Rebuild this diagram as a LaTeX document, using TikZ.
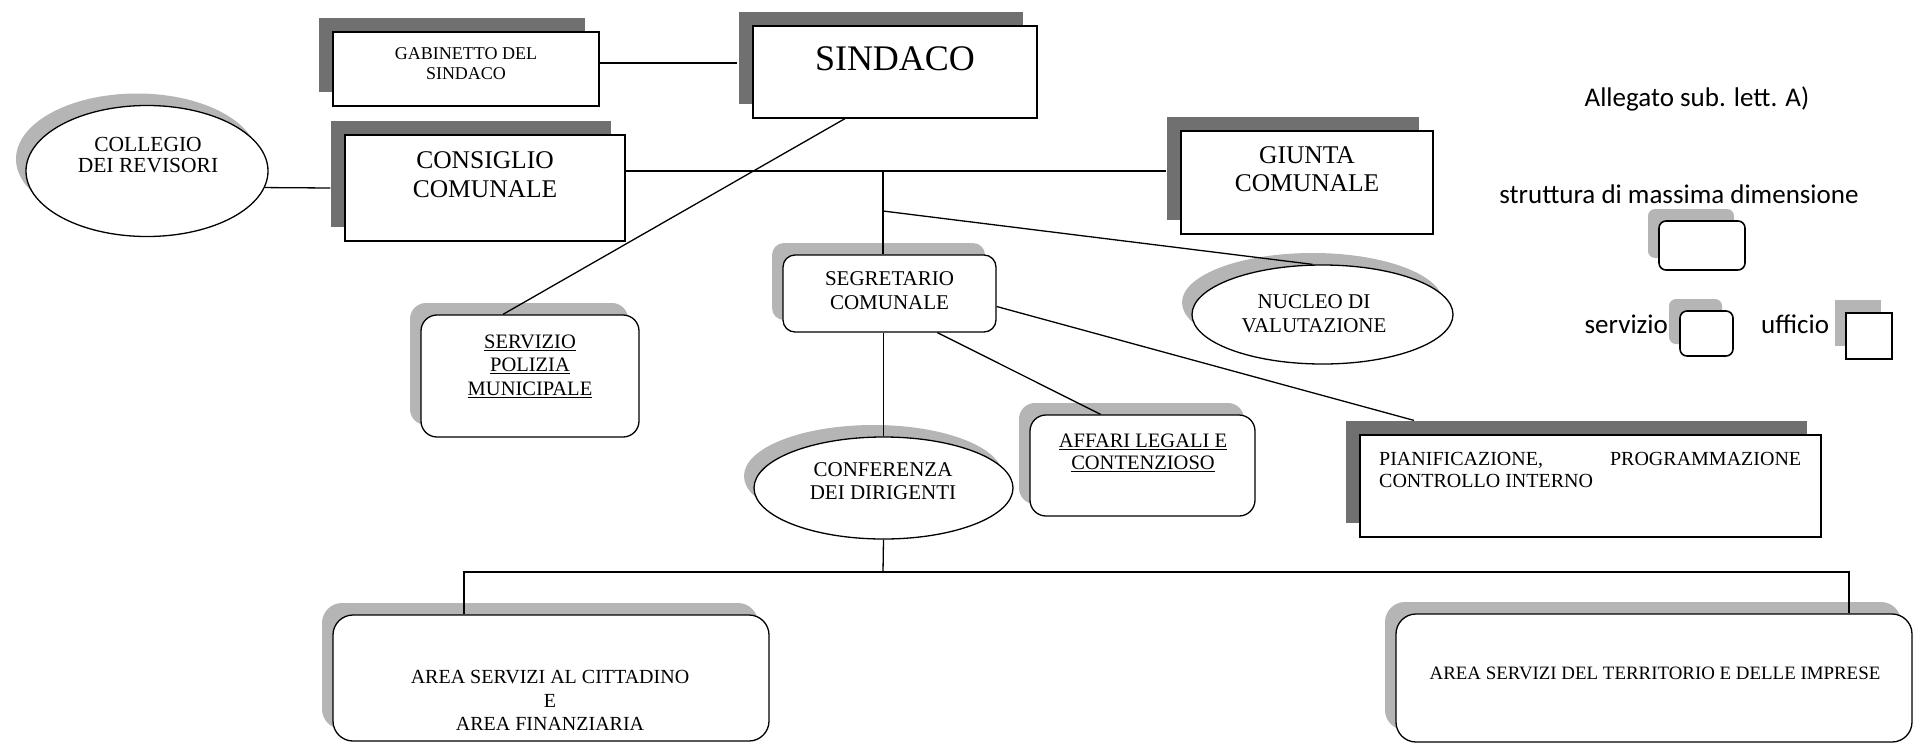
\documentclass[tikz,border=0pt]{standalone}
\usepackage{fontspec}
\setmainfont{Liberation Serif}
\newfontfamily\legendfont{Carlito}
\usetikzlibrary{shadows,calc,shapes.geometric}
\definecolor{darksh}{HTML}{707070}
\definecolor{lightsh}{HTML}{B5B5B5}
\begin{document}
\begin{tikzpicture}[x=1pt,y=-1pt,
  sqbox/.style={rectangle, draw=black, line width=1.2pt, fill=white, inner sep=0pt,
    general shadow={fill=darksh, shadow xshift=-14pt, shadow yshift=14pt}},
  rbox/.style={rectangle, rounded corners=#1, draw=black, line width=1.3pt, fill=white, inner sep=0pt,
    general shadow={fill=lightsh, shadow xshift=-11pt, shadow yshift=12pt}},
  rbox/.default=15pt,
  ebox/.style={ellipse, draw=black, line width=1.3pt, fill=white, inner sep=0pt,
    general shadow={fill=lightsh, shadow xshift=-10pt, shadow yshift=12pt}},
  lsqbox/.style={rectangle, draw=black, line width=1.5pt, fill=white, inner sep=0pt,
    general shadow={fill=lightsh, shadow xshift=-11pt, shadow yshift=13pt}},
  txt/.style={inner sep=0pt, align=center},
  legtxt/.style={inner sep=0pt, font=\legendfont\fontsize{27}{32}\selectfont},
  conn/.style={draw=black, line width=1.3pt},
]
\useasboundingbox (0,0) rectangle (1914,745);

% boxes
\node[sqbox, minimum width=266pt, minimum height=74pt] (gab) at (466,69) {};
\node[txt, font=\fontsize{18}{20}\selectfont] (gabt) at (466,63.5) {GABINETTO DEL\\SINDACO};

\node[sqbox, minimum width=284pt, minimum height=92pt] (sind) at (895,72) {};
\node[txt, font=\fontsize{36}{40}\selectfont] (sindt) at (895,58.5) {SINDACO};

\node[ebox, minimum width=242pt, minimum height=131pt] (coll) at (147,171) {};
\node[txt, font=\fontsize{21.5}{21}\selectfont] (collt) at (148,155) {COLLEGIO\\DEI REVISORI};

\node[sqbox, minimum width=280pt, minimum height=106pt] (cons) at (485,188) {};
\node[txt, font=\fontsize{25.5}{29}\selectfont] (const) at (485,174.5) {CONSIGLIO\\COMUNALE};

\node[sqbox, minimum width=252pt, minimum height=103pt] (giu) at (1307,182.5) {};
\node[txt, font=\fontsize{25.5}{28}\selectfont] (giut) at (1307,169.5) {GIUNTA\\COMUNALE};

\node[rbox=12pt, minimum width=213pt, minimum height=77pt] (seg) at (889.5,293.5) {};
\node[txt, font=\fontsize{21}{24}\selectfont] (segt) at (889.5,291) {SEGRETARIO\\COMUNALE};

\node[ebox, minimum width=261pt, minimum height=99pt] (nuc) at (1322.5,314.5) {};
\node[txt, font=\fontsize{21}{24}\selectfont] (nuct) at (1314,313.5) {NUCLEO DI\\VALUTAZIONE};

\node[rbox=16pt, minimum width=218pt, minimum height=122pt] (pol) at (530,376) {};
\node[txt, font=\fontsize{20.5}{23.5}\selectfont] (polt) at (530,366) {\underline{SERVIZIO}\\\underline{POLIZIA}\\\underline{MUNICIPALE}};

\node[ebox, minimum width=259pt, minimum height=102pt] (conf) at (883.5,488) {};
\node[txt, font=\fontsize{21}{23}\selectfont] (conft) at (883,481.5) {CONFERENZA\\DEI DIRIGENTI};

\node[rbox=16pt, minimum width=225pt, minimum height=101pt] (aff) at (1142.5,465.5) {};
\node[txt, font=\fontsize{20.5}{22}\selectfont] (afft) at (1143,453) {\underline{AFFARI LEGALI E}\\\underline{CONTENZIOSO}};

\node[sqbox, minimum width=461pt, minimum height=102pt] (pian) at (1590.5,486) {};
\node[inner sep=0pt, anchor=north west, text width=422pt, align=justify, font=\fontsize{20}{22}\selectfont] (piant) at (1379,452) {PIANIFICAZIONE,\hfill PROGRAMMAZIONE\\CONTROLLO INTERNO};

\node[rbox=20pt, minimum width=436pt, minimum height=126pt] (ar1) at (551,678) {};
\node[txt, font=\fontsize{20}{23.5}\selectfont] (ar1t) at (550,700.5) {AREA SERVIZI AL CITTADINO\\E\\AREA FINANZIARIA};

\node[rbox=20pt, minimum width=516pt, minimum height=128pt] (ar2) at (1654,678) {};
\node[txt, font=\fontsize{18.9}{22}\selectfont] (ar2t) at (1655,673) {AREA SERVIZI DEL TERRITORIO E DELLE IMPRESE};

% legend
\node[legtxt, anchor=base] (alleg) at (1697,106) {Allegato sub. lett. A)};
\node[legtxt, anchor=base] (strut) at (1679,203) {struttura di massima dimensione};
\node[rbox=7pt, line width=1.6pt, minimum width=86pt, minimum height=49pt] (lgbig) at (1702,245.5) {};
\node[legtxt, anchor=base east] (servt) at (1668,333) {servizio};
\node[rbox=7pt, line width=1.6pt, minimum width=53pt, minimum height=45pt] (lgserv) at (1706.5,333.5) {};
\node[legtxt, anchor=base west] (uffit) at (1761,333) {ufficio};
\node[lsqbox, minimum width=46pt, minimum height=46pt] (lguff) at (1869,336) {};

% junctions
\coordinate (j1) at (883,171);
\coordinate (j2) at (883,211);
\coordinate (j3) at (883,572);
\coordinate (bl) at (464,572);
\coordinate (br) at (1849,572);

% connectors
\draw[conn] ($(gab.east)+(0,-6)$) -- ($(gab.east -| sind.west)+(-15,-6)$);
\draw[conn] (coll.-8.3) -- ($(cons.west)+(-14,0)$);
\draw[conn] (cons.east |- j1) -- ($(giu.west |- j1)+(-14,0)$);
\draw[conn] (j1) -- (j1 |- seg.north);
\draw[conn] (j2) -- ([xshift=-10pt]nuc.north);
\draw[conn] ([xshift=-50pt]sind.south) -- ([xshift=-27pt]pol.north);
\draw[conn] ([yshift=-13pt]seg.east) -- ($(pian.north)+(-176.5,-14)$);
\draw[conn] ([xshift=48pt]seg.south) -- ([xshift=-42pt]aff.north);
\draw[conn] (conf.north |- seg.south) -- (conf.north);
\draw[conn] (conf.south) -- (j3);
\draw[conn] (bl |- ar1.north) -- (bl) -- (br) -- (br |- ar2.north);
\end{tikzpicture}
\end{document}
